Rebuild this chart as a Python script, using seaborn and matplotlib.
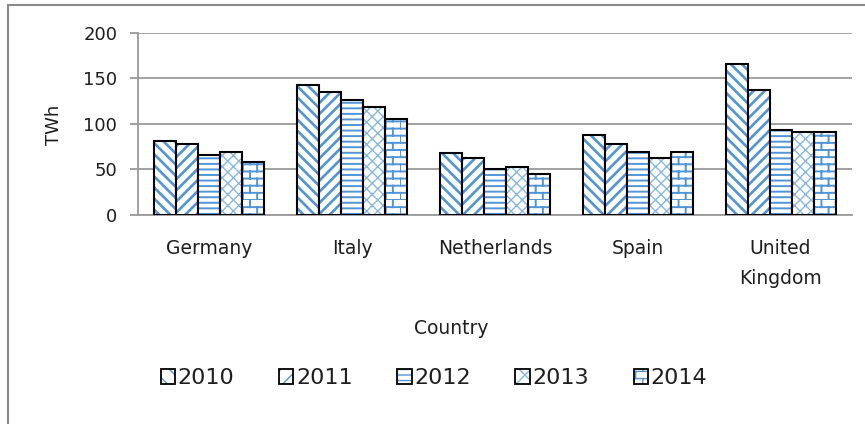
import warnings
import numpy as np
import pandas as pd
import matplotlib
matplotlib.use("Agg")
import matplotlib.pyplot as plt
import matplotlib.hatch as mhatch
import matplotlib.patches as mpatches
from matplotlib.lines import Line2D
from matplotlib.colors import to_rgba
import seaborn as sns

warnings.filterwarnings("ignore")

# ---- data -------------------------------------------------------------
countries = ["Germany", "Italy", "Netherlands", "Spain", "United\nKingdom"]
years = ["2010", "2011", "2012", "2013", "2014"]
twh_2010 = [81.5, 143, 68.5, 88, 165.5]
twh_2011 = [77.5, 134.5, 63, 77.5, 137]
twh_2012 = [66, 126, 50.5, 69, 93.5]
twh_2013 = [69, 118, 52.5, 63, 91.5]
twh_2014 = [58.5, 105.5, 44.5, 69, 91.5]
y_ticks = [0, 50, 100, 150, 200]


# ---- brick hatch ('b') --------------------------------------------------
class BrickHatch(mhatch.HatchPatternBase):
    def __init__(self, hatch, density):
        n = hatch.count("b")
        self.rows = 14 * n
        self.cols = 7 * n
        if n:
            self.num_vertices = self.rows * 2 + self.rows * self.cols * 2
        else:
            self.num_vertices = 0

    def set_vertices_and_codes(self, vertices, codes):
        k = 0
        for i in range(self.rows):
            y = i / self.rows
            vertices[k] = (0.0, y)
            vertices[k + 1] = (1.0, y)
            codes[k] = mhatch.Path.MOVETO
            codes[k + 1] = mhatch.Path.LINETO
            k += 2
        for i in range(self.rows):
            y0 = i / self.rows
            y1 = (i + 1) / self.rows
            shift = 0.5 * (i % 2)
            for j in range(self.cols):
                x = (j + shift) / self.cols
                vertices[k] = (x, y0)
                vertices[k + 1] = (x, y1)
                codes[k] = mhatch.Path.MOVETO
                codes[k + 1] = mhatch.Path.LINETO
                k += 2


mhatch._hatch_types.append(BrickHatch)

# ---- styling per series -------------------------------------------------
blue = "#4f95d8"
light_blue = "#86b8e4"
hatches = {"2010": "\\\\\\", "2011": "///", "2012": "---", "2013": "xxx", "2014": "b"}
hatch_colors = {"2010": blue, "2011": blue, "2012": blue, "2013": light_blue, "2014": blue}
hatch_widths = {"2010": 1.9, "2011": 1.9, "2012": 1.4, "2013": 1.0, "2014": 1.4}

text_color = "#1e1e1e"
grid_color = "#9a9a9a"

df = pd.DataFrame({
    "Country": np.repeat(countries, len(years)),
    "Year": years * len(countries),
    "TWh": np.column_stack([twh_2010, twh_2011, twh_2012, twh_2013, twh_2014]).ravel(),
})

sns.set_theme(style="white")
plt.rcParams["font.family"] = ["DejaVu Sans"]

fig = plt.figure(figsize=(8.65, 4.24), dpi=100)
ax = fig.add_axes([138 / 865, 1 - 215 / 424, (852 - 138) / 865, (215 - 32.7) / 424])

bar_width = 0.77
sns.barplot(data=df, x="Country", y="TWh", hue="Year", hue_order=years,
            order=countries, palette=["white"] * len(years), width=bar_width,
            edgecolor="black", linewidth=1.5, saturation=1, legend=False,
            errorbar=None, ax=ax, zorder=3)


def style_patch(p, year):
    p.set_facecolor("white")
    p.set_edgecolor("black")
    p.set_hatch(hatches[year])
    p._hatch_color = to_rgba(hatch_colors[year])
    if hasattr(p, "set_hatch_linewidth"):
        p.set_hatch_linewidth(hatch_widths[year])
    else:
        p._hatch_linewidth = hatch_widths[year]


slot = bar_width / len(years)
for p in ax.patches:
    cx = p.get_x() + p.get_width() / 2
    idx = int(round((cx - round(cx)) / slot + (len(years) - 1) / 2))
    style_patch(p, years[idx])

# ---- axes ---------------------------------------------------------------
ax.set_ylim(0, 200)
ax.set_yticks(y_ticks)
ax.set_yticklabels([str(v) for v in y_ticks])
ax.set_xlim(-0.5, len(countries) - 0.5)
ax.grid(axis="y", color=grid_color, linewidth=1.3, zorder=0)
ax.set_axisbelow(True)
for side in ["top", "right"]:
    ax.spines[side].set_visible(False)
for side in ["left", "bottom"]:
    ax.spines[side].set_color(grid_color)
    ax.spines[side].set_linewidth(1.3)
ax.tick_params(axis="y", which="major", left=True, length=6, width=1.3,
               color=grid_color, pad=9, labelsize=13, labelcolor=text_color)
ax.tick_params(axis="x", which="major", bottom=False, pad=11, labelsize=13.5,
               labelcolor=text_color)
for lbl in ax.get_xticklabels():
    lbl.set_linespacing(1.75)
    lbl.set_verticalalignment("top")
ax.set_xlabel("")
ax.set_ylabel("")

fig.text(54 / 865, 1 - 125 / 424, "TWh", rotation=90, ha="center", va="center",
         fontsize=13, color=text_color)
fig.text(451 / 865, 1 - 328 / 424, "Country", ha="center", va="center",
         fontsize=13.5, color=text_color)

# ---- legend -------------------------------------------------------------
legend_hatches = {"2010": "\\\\", "2011": "//", "2012": "---", "2013": "xx", "2014": "b"}
handles = []
for y in years:
    h = mpatches.Patch(facecolor="white", edgecolor="black", linewidth=1.3, label=y)
    style_patch(h, y)
    h.set_hatch(legend_hatches[y])
    handles.append(h)
fig.legend(handles=handles, labels=years, loc="center", ncol=5,
           bbox_to_anchor=(434 / 865, 1 - 378 / 424), frameon=False,
           fontsize=16, handlelength=0.65, handleheight=0.65,
           handletextpad=0.12, columnspacing=2.0, labelcolor=text_color)

# ---- outer frame (top and left edges) ------------------------------------
frame_color = "#8a8a8a"
fig.add_artist(Line2D([8 / 865, 1], [1 - 5 / 424, 1 - 5 / 424],
                      transform=fig.transFigure, color=frame_color, linewidth=1.5))
fig.add_artist(Line2D([8 / 865, 8 / 865], [0, 1 - 5 / 424],
                      transform=fig.transFigure, color=frame_color, linewidth=1.5))

fig.savefig("out.png", dpi=100, facecolor="white")
